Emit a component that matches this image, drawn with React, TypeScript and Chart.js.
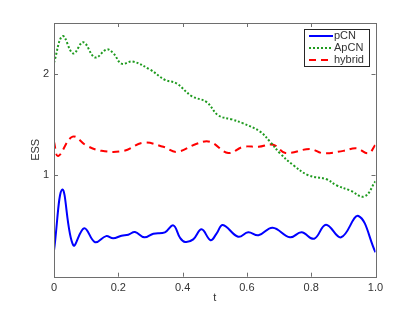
import React, { useEffect, useRef } from "react";
import { Chart, registerables } from "chart.js";

Chart.register(...registerables);

// pCN series
const tPCN = [0, 0.026, 0.06, 0.094, 0.128, 0.162, 0.184, 0.21, 0.231, 0.252, 0.281, 0.309, 0.345, 0.371, 0.392, 0.408, 0.433, 0.459, 0.487, 0.506, 0.525, 0.573, 0.604, 0.636, 0.68, 0.734, 0.77, 0.809, 0.846, 0.893, 0.947, 1];
const vPCN = [0.256, 0.86, 0.31, 0.477, 0.34, 0.4, 0.378, 0.404, 0.414, 0.44, 0.388, 0.424, 0.437, 0.506, 0.384, 0.342, 0.368, 0.467, 0.36, 0.427, 0.51, 0.394, 0.437, 0.408, 0.483, 0.388, 0.437, 0.374, 0.512, 0.388, 0.598, 0.24];

// ApCN series
const tAPCN = [0, 0.027, 0.06, 0.091, 0.128, 0.164, 0.185, 0.21, 0.245, 0.299, 0.345, 0.381, 0.428, 0.475, 0.511, 0.553, 0.589, 0.641, 0.672, 0.703, 0.744, 0.791, 0.848, 0.879, 0.921, 0.965, 1];
const vAPCN = [2.11, 2.37, 2.2, 2.31, 2.16, 2.24, 2.2, 2.1, 2.12, 2.04, 1.94, 1.905, 1.78, 1.72, 1.59, 1.55, 1.51, 1.43, 1.33, 1.216, 1.1, 1.0, 0.96, 0.9, 0.85, 0.79, 0.94];

// hybrid series
const tHYB = [0, 0.013, 0.058, 0.102, 0.148, 0.216, 0.278, 0.34, 0.382, 0.444, 0.485, 0.542, 0.589, 0.636, 0.682, 0.72, 0.796, 0.838, 0.9, 0.941, 0.978, 1];
const vHYB = [1.33, 1.19, 1.38, 1.29, 1.24, 1.24, 1.32, 1.28, 1.23, 1.31, 1.33, 1.22, 1.28, 1.28, 1.3, 1.22, 1.258, 1.216, 1.24, 1.265, 1.216, 1.3];

const seriesLabels = ["pCN", "ApCN", "hybrid"];
const xTicks = [0, 0.2, 0.4, 0.6, 0.8, 1];
const yTicks = [1, 2];

const toPts = (t: number[], v: number[]) => t.map((x, i) => ({ x, y: v[i] }));

const AXIS_COLOR = "#6e6e6e";
const TEXT_COLOR = "#333333";
const FONT = "'Liberation Sans', Arial, sans-serif";

const boxTicksPlugin = {
  id: "boxTicks",
  afterDraw(chart: any) {
    const { ctx, chartArea: a } = chart;
    const xs = chart.scales.x;
    const ys = chart.scales.y;
    ctx.save();
    ctx.strokeStyle = AXIS_COLOR;
    ctx.lineWidth = 1;
    ctx.setLineDash([]);
    ctx.strokeRect(Math.round(a.left) + 0.5, Math.round(a.top) + 0.5, Math.round(a.right - a.left), Math.round(a.bottom - a.top));
    const L = 4;
    ctx.beginPath();
    xTicks.forEach((v) => {
      const px = Math.round(xs.getPixelForValue(v)) + 0.5;
      ctx.moveTo(px, a.bottom);
      ctx.lineTo(px, a.bottom - L);
      ctx.moveTo(px, a.top);
      ctx.lineTo(px, a.top + L);
    });
    yTicks.forEach((v) => {
      const py = Math.round(ys.getPixelForValue(v)) + 0.5;
      ctx.moveTo(a.left, py);
      ctx.lineTo(a.left + L, py);
      ctx.moveTo(a.right, py);
      ctx.lineTo(a.right - L, py);
    });
    ctx.stroke();
    ctx.restore();
  },
};

const legendPlugin = {
  id: "matlabLegend",
  afterDraw(chart: any) {
    const { ctx, chartArea: a } = chart;
    const w = 65;
    const h = 37;
    const x = Math.round(a.right - 7 - w);
    const y = Math.round(a.top + 6);
    ctx.save();
    ctx.fillStyle = "#ffffff";
    ctx.fillRect(x, y, w, h);
    ctx.strokeStyle = "#262626";
    ctx.lineWidth = 1;
    ctx.strokeRect(x + 0.5, y + 0.5, w, h);
    ctx.font = `11px ${FONT}`;
    ctx.textBaseline = "middle";
    chart.data.datasets.forEach((ds: any, i: number) => {
      const yy = y + 7 + i * 12;
      ctx.strokeStyle = ds.borderColor;
      ctx.lineWidth = ds.borderWidth;
      ctx.setLineDash(ds.borderDash || []);
      ctx.beginPath();
      ctx.moveTo(x + 5, yy);
      ctx.lineTo(x + 29, yy);
      ctx.stroke();
      ctx.setLineDash([]);
      ctx.fillStyle = TEXT_COLOR;
      ctx.fillText(ds.label, x + 30, yy);
    });
    ctx.restore();
  },
};

export default function App() {
  const ref = useRef<HTMLCanvasElement>(null);
  useEffect(() => {
    if (!ref.current) return;
    const chart = new Chart(ref.current, {
      type: "line",
      data: {
        datasets: [
          {
            label: seriesLabels[0],
            data: toPts(tPCN, vPCN),
            borderColor: "#0000ff",
            borderWidth: 2,
            pointRadius: 0,
            tension: 0.4,
          },
          {
            label: seriesLabels[1],
            data: toPts(tAPCN, vAPCN),
            borderColor: "#1e9a1e",
            borderWidth: 2,
            borderDash: [2, 2],
            pointRadius: 0,
            tension: 0.4,
          },
          {
            label: seriesLabels[2],
            data: toPts(tHYB, vHYB),
            borderColor: "#ff0000",
            borderWidth: 2,
            borderDash: [7, 5],
            pointRadius: 0,
            tension: 0.4,
          },
        ],
      },
      options: {
        animation: false,
        responsive: false,
        layout: { padding: { left: 0, top: 23, right: 39.5, bottom: 0 } },
        plugins: { legend: { display: false }, tooltip: { enabled: false } },
        scales: {
          x: {
            type: "linear",
            position: "bottom",
            min: 0,
            max: 1,
            afterBuildTicks: (s: any) => {
              s.ticks = xTicks.map((value) => ({ value }));
            },
            afterFit: (s: any) => {
              s.height = 35.3;
            },
            grid: { display: false, drawTicks: false },
            border: { display: false },
            ticks: { color: TEXT_COLOR, font: { family: FONT, size: 11 }, padding: 5, maxRotation: 0 },
            title: { display: true, text: "t", color: TEXT_COLOR, font: { family: FONT, size: 11 }, padding: { top: 0, bottom: 7 } },
          },
          y: {
            type: "linear",
            position: "left",
            min: 0,
            max: 2.5,
            afterBuildTicks: (s: any) => {
              s.ticks = yTicks.map((value) => ({ value }));
            },
            afterFit: (s: any) => {
              s.width = 54;
            },
            grid: { display: false, drawTicks: false },
            border: { display: false },
            ticks: { color: TEXT_COLOR, font: { family: FONT, size: 11 }, padding: 5 },
            title: { display: true, text: "ESS", color: TEXT_COLOR, font: { family: FONT, size: 11 }, padding: { top: 29.4, bottom: 0 } },
          },
        },
      },
      plugins: [boxTicksPlugin, legendPlugin],
    } as any);
    return () => chart.destroy();
  }, []);
  return (
    <div style={{ position: "fixed", left: 0, top: 0, width: 415, height: 312, background: "#fff" }}>
      <canvas ref={ref} width={415} height={312} style={{ display: "block" }} />
    </div>
  );
}
